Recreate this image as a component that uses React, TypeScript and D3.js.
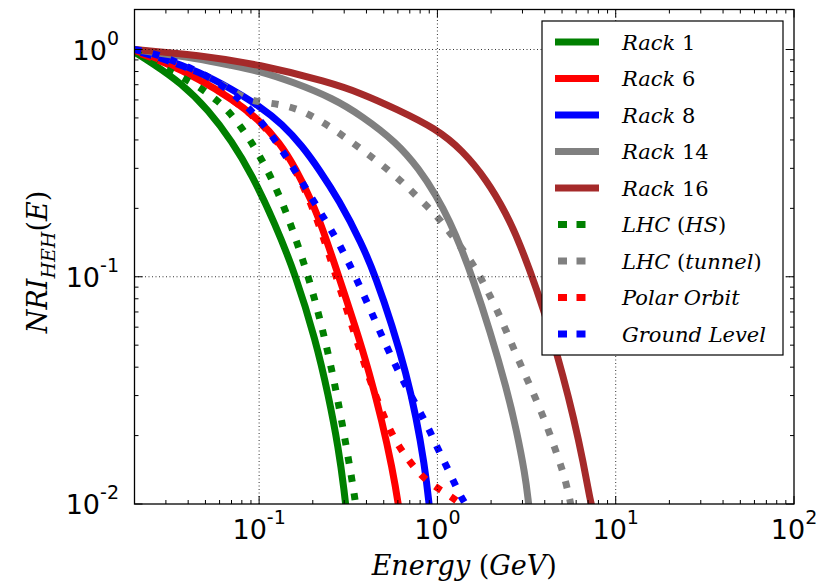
import React from "react";
import * as d3 from "d3";

// ---------- data ----------
const rack1E = [0.02, 0.0249, 0.0367, 0.0522, 0.0703, 0.091, 0.123, 0.16, 0.207, 0.245, 0.279, 0.3, 0.315];
const rack1V = [0.975, 0.875, 0.71, 0.54, 0.395, 0.282, 0.171, 0.102, 0.053, 0.03, 0.0175, 0.0115, 0.008];

const rack6E = [0.02, 0.0294, 0.0458, 0.0703, 0.1, 0.13, 0.16, 0.199, 0.227, 0.279, 0.348, 0.413, 0.49, 0.557, 0.61, 0.64];
const rack6V = [0.98, 0.88, 0.743, 0.607, 0.49, 0.39, 0.301, 0.212, 0.163, 0.101, 0.0597, 0.0384, 0.023, 0.0145, 0.0096, 0.007];

const rack8E = [0.02, 0.0294, 0.0458, 0.0703, 0.1, 0.135, 0.175, 0.218, 0.279, 0.377, 0.452, 0.557, 0.668, 0.76, 0.845, 0.9, 0.93];
const rack8V = [0.99, 0.91, 0.8, 0.67, 0.565, 0.47, 0.375, 0.295, 0.219, 0.14, 0.099, 0.0612, 0.0375, 0.0242, 0.015, 0.01, 0.0075];

const rack14E = [0.02, 0.0458, 0.0703, 0.1, 0.154, 0.26, 0.377, 0.586, 0.79, 0.986, 1.17, 1.38, 1.58, 1.97, 2.45, 2.79, 3.1, 3.22, 3.35];
const rack14V = [1.0, 0.91, 0.85, 0.805, 0.72, 0.61, 0.51, 0.392, 0.298, 0.227, 0.176, 0.13, 0.098, 0.058, 0.032, 0.0208, 0.0135, 0.0107, 0.008];

const rack16E = [0.02, 0.0458, 0.1, 0.245, 0.377, 0.586, 0.986, 1.38, 1.89, 2.45, 2.9, 3.62, 4.3, 5.08, 5.8, 6.6, 7.2, 7.5, 7.8];
const rack16V = [1.0, 0.945, 0.86, 0.72, 0.64, 0.548, 0.448, 0.36, 0.267, 0.188, 0.14, 0.0875, 0.0577, 0.0363, 0.0241, 0.0151, 0.0103, 0.0092, 0.0082];

const lhcHsE = [0.02, 0.0249, 0.033, 0.0458, 0.0594, 0.0686, 0.08, 0.089, 0.1, 0.111, 0.123, 0.144, 0.182, 0.21, 0.236, 0.262, 0.29, 0.327, 0.345, 0.36];
const lhcHsV = [0.98, 0.88, 0.79, 0.69, 0.59, 0.526, 0.451, 0.399, 0.343, 0.295, 0.25, 0.188, 0.11, 0.0745, 0.0515, 0.0355, 0.0235, 0.0137, 0.0105, 0.0082];

const lhcTunnelE = [0.02, 0.0294, 0.0458, 0.0703, 0.088, 0.114, 0.144, 0.179, 0.221, 0.268, 0.331, 0.397, 0.483, 0.586, 0.695, 0.82, 0.986, 1.2, 1.46, 1.68, 1.89, 2.15, 2.45, 2.79, 3.18, 3.62, 4.13, 4.58, 5.08, 5.42, 5.6, 5.9];
const lhcTunnelV = [1.0, 0.91, 0.8, 0.66, 0.595, 0.582, 0.565, 0.532, 0.485, 0.44, 0.391, 0.352, 0.313, 0.276, 0.244, 0.214, 0.187, 0.153, 0.125, 0.105, 0.088, 0.072, 0.057, 0.0447, 0.0355, 0.0282, 0.0219, 0.0174, 0.0138, 0.0112, 0.01, 0.008];

const polarE = [0.02, 0.03, 0.0458, 0.07, 0.1, 0.13, 0.16, 0.199, 0.245, 0.306, 0.377, 0.452, 0.535, 0.61, 0.695, 0.79, 0.937, 1.17, 1.38, 1.5];
const polarV = [0.99, 0.89, 0.75, 0.61, 0.485, 0.385, 0.296, 0.205, 0.128, 0.074, 0.0445, 0.0295, 0.0215, 0.0178, 0.0155, 0.0136, 0.0121, 0.0109, 0.0099, 0.0093];

const groundE = [0.02, 0.026, 0.0323, 0.0408, 0.0522, 0.0703, 0.088, 0.108, 0.135, 0.16, 0.199, 0.227, 0.279, 0.348, 0.452, 0.557, 0.713, 0.8, 0.9, 0.99, 1.17, 1.33, 1.44, 1.55];
const groundV = [1.0, 0.957, 0.9, 0.83, 0.76, 0.65, 0.55, 0.46, 0.36, 0.29, 0.22, 0.185, 0.142, 0.1, 0.063, 0.0434, 0.0298, 0.0253, 0.0213, 0.0179, 0.0138, 0.011, 0.01, 0.009];

const xTickExps = ["-1", "0", "1", "2"];
const yTickExps = ["0", "-1", "-2"];

// ---------- layout ----------
const W = 833;
const H = 582;
const L = 134.5;
const R = 794;
const T = 9.5;
const B = 504;

const series = [
  { label: "Rack 1", E: rack1E, V: rack1V, color: "#008000", dotted: false },
  { label: "Rack 6", E: rack6E, V: rack6V, color: "#ff0000", dotted: false },
  { label: "Rack 8", E: rack8E, V: rack8V, color: "#0000ff", dotted: false },
  { label: "Rack 14", E: rack14E, V: rack14V, color: "#808080", dotted: false },
  { label: "Rack 16", E: rack16E, V: rack16V, color: "#a52a2a", dotted: false },
  { label: "LHC (HS)", E: lhcHsE, V: lhcHsV, color: "#008000", dotted: true },
  { label: "LHC (tunnel)", E: lhcTunnelE, V: lhcTunnelV, color: "#808080", dotted: true },
  { label: "Polar Orbit", E: polarE, V: polarV, color: "#ff0000", dotted: true },
  { label: "Ground Level", E: groundE, V: groundV, color: "#0000ff", dotted: true },
];

const LW = 7;
const DASH = "7,11.5";

function LegendText({ label }: { label: string }) {
  const it = { fontStyle: "italic" as const };
  const up = { fontStyle: "normal" as const };
  if (label.startsWith("Rack")) {
    return (
      <>
        <tspan style={it}>Rack</tspan>
        <tspan style={up}>{" " + label.split(" ")[1]}</tspan>
      </>
    );
  }
  if (label === "LHC (HS)") {
    return (
      <>
        <tspan style={it}>LHC </tspan>
        <tspan style={up}>(</tspan>
        <tspan style={it}>HS</tspan>
        <tspan style={up}>)</tspan>
      </>
    );
  }
  if (label === "LHC (tunnel)") {
    return (
      <>
        <tspan style={it}>LHC </tspan>
        <tspan style={up}>(</tspan>
        <tspan style={it}>tunnel</tspan>
        <tspan style={up}>)</tspan>
      </>
    );
  }
  return <tspan style={it}>{label}</tspan>;
}

export default function App() {
  const x = d3.scaleLog().domain([0.02, 100]).range([L, R]);
  const y = d3.scaleLog().domain([0.01, 1.5]).range([B, T]);

  const line = d3
    .line<[number, number]>()
    .x((d) => x(d[0]))
    .y((d) => y(d[1]))
    .curve(d3.curveBasis);

  const xMajor = [0.1, 1, 10, 100];
  const yMajor = [1, 0.1, 0.01];
  const xMinor: number[] = [];
  [0.01, 0.1, 1, 10].forEach((dec) => {
    for (let k = 2; k <= 9; k++) {
      const v = dec * k;
      if (v > 0.02 - 1e-9 && v < 100) xMinor.push(v);
    }
  });
  const yMinor: number[] = [];
  [0.01, 0.1, 1].forEach((dec) => {
    for (let k = 2; k <= 9; k++) {
      const v = dec * k;
      if (v < 1.5) yMinor.push(v);
    }
  });

  const tickFont = "'DejaVu Sans', sans-serif";
  const serif = "'DejaVu Serif', serif";

  const legX = 542;
  const legY = 21;
  const rowY = (i: number) => 42 + i * 36.5;

  return (
    <svg
      width={W}
      height={H}
      viewBox={`0 0 ${W} ${H}`}
      style={{ position: "absolute", left: 0, top: 0, background: "#fff" }}
    >
      <defs>
        <clipPath id="plotclip">
          <rect x={L} y={T} width={R - L} height={B - T} />
        </clipPath>
      </defs>
      <rect x={0} y={0} width={W} height={H} fill="#fff" />

      {/* curves */}
      <g clipPath="url(#plotclip)">
        {series.map((s) => (
          <path
            key={s.label}
            d={line(s.E.map((e, i) => [e, s.V[i]] as [number, number])) || ""}
            fill="none"
            stroke={s.color}
            strokeWidth={LW}
            strokeDasharray={s.dotted ? DASH : undefined}
            strokeLinecap="butt"
            strokeLinejoin="round"
          />
        ))}
      </g>

      {/* grid (drawn above lines, matplotlib classic) */}
      <g stroke="#000" strokeWidth={0.8} strokeDasharray="1,2.5">
        {xMajor
          .filter((v) => v < 100)
          .map((v) => (
            <line key={"gx" + v} x1={x(v)} x2={x(v)} y1={T} y2={B} />
          ))}
        {yMajor
          .filter((v) => v > 0.01)
          .map((v) => (
            <line key={"gy" + v} x1={L} x2={R} y1={y(v)} y2={y(v)} />
          ))}
      </g>

      {/* ticks */}
      <g stroke="#000" strokeWidth={1}>
        {xMajor.map((v) => (
          <g key={"xt" + v}>
            <line x1={x(v)} x2={x(v)} y1={B} y2={B - 8} />
            <line x1={x(v)} x2={x(v)} y1={T} y2={T + 8} />
          </g>
        ))}
        {xMinor.map((v) => (
          <g key={"xm" + v}>
            <line x1={x(v)} x2={x(v)} y1={B} y2={B - 4} />
            <line x1={x(v)} x2={x(v)} y1={T} y2={T + 4} />
          </g>
        ))}
        {yMajor.map((v) => (
          <g key={"yt" + v}>
            <line x1={L} x2={L + 8} y1={y(v)} y2={y(v)} />
            <line x1={R} x2={R - 8} y1={y(v)} y2={y(v)} />
          </g>
        ))}
        {yMinor.map((v) => (
          <g key={"ym" + v}>
            <line x1={L} x2={L + 4} y1={y(v)} y2={y(v)} />
            <line x1={R} x2={R - 4} y1={y(v)} y2={y(v)} />
          </g>
        ))}
      </g>

      {/* spines */}
      <rect x={L} y={T} width={R - L} height={B - T} fill="none" stroke="#000" strokeWidth={1.3} />

      {/* x tick labels */}
      {xMajor.map((v, i) => (
        <text
          key={"xl" + v}
          x={x(v)}
          y={539}
          textAnchor="middle"
          fontFamily={tickFont}
          fontSize={27}
          fill="#000"
        >
          10
          <tspan fontSize={19} dy={-15}>
            {xTickExps[i]}
          </tspan>
        </text>
      ))}

      {/* y tick labels */}
      {yMajor.map((v, i) => (
        <text
          key={"yl" + v}
          x={119}
          y={y(v) + 10}
          textAnchor="end"
          fontFamily={tickFont}
          fontSize={27}
          fill="#000"
        >
          10
          <tspan fontSize={19} dy={-15}>
            {yTickExps[i]}
          </tspan>
        </text>
      ))}

      {/* axis labels */}
      <text
        x={(L + R) / 2}
        y={575}
        textAnchor="middle"
        fontFamily={serif}
        fontSize={27}
        fill="#000"
      >
        <tspan fontStyle="italic">Energy </tspan>
        <tspan>(</tspan>
        <tspan fontStyle="italic">GeV</tspan>
        <tspan>)</tspan>
      </text>
      <text
        transform="translate(47,262) rotate(-90)"
        textAnchor="middle"
        fontFamily={serif}
        fontSize={27}
        fill="#000"
      >
        <tspan fontStyle="italic">NRI</tspan>
        <tspan fontStyle="italic" fontSize={19} dy={8}>
          HEH
        </tspan>
        <tspan dy={-8}>(</tspan>
        <tspan fontStyle="italic">E</tspan>
        <tspan>)</tspan>
      </text>

      {/* legend */}
      <rect x={legX} y={legY} width={241} height={334} fill="#fff" stroke="#000" strokeWidth={1.2} />
      {series.map((s, i) => (
        <g key={"lg" + s.label}>
          {s.dotted ? (
            <line
              x1={558}
              x2={588}
              y1={rowY(i)}
              y2={rowY(i)}
              stroke={s.color}
              strokeWidth={LW}
              strokeDasharray="9,9.5"
            />
          ) : (
            <line x1={555} x2={599} y1={rowY(i)} y2={rowY(i)} stroke={s.color} strokeWidth={LW} />
          )}
          <text x={622} y={rowY(i) + 7.5} fontFamily={serif} fontSize={21} fill="#000">
            <LegendText label={s.label} />
          </text>
        </g>
      ))}
    </svg>
  );
}
